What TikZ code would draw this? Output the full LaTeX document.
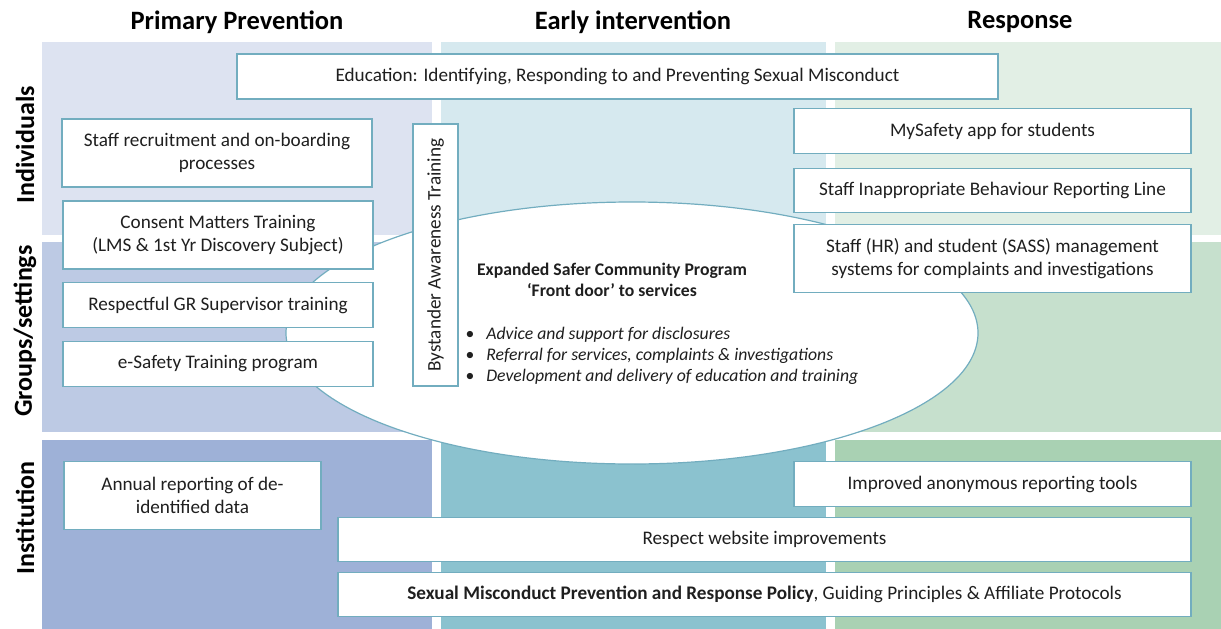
\documentclass[tikz,border=0pt]{standalone}
\usepackage{fontspec}
\setmainfont{Carlito}
\usetikzlibrary{shapes.geometric}
\definecolor{boxedge}{HTML}{72ADBF}
\definecolor{inkgrey}{HTML}{1F1F1F}
\definecolor{cellAa}{HTML}{DDE3F1}
\definecolor{cellAb}{HTML}{BDCAE4}
\definecolor{cellAc}{HTML}{9EB1D7}
\definecolor{cellBa}{HTML}{D6E9EF}
\definecolor{cellBb}{HTML}{B6D7E2}
\definecolor{cellBc}{HTML}{8BC2CF}
\definecolor{cellCa}{HTML}{E2EFE5}
\definecolor{cellCb}{HTML}{C6E0CD}
\definecolor{cellCc}{HTML}{A9D1B3}
\tikzset{
    info-box/.style = {draw=boxedge, fill=white, line width=1.2pt, rectangle, inner sep=2pt, align=center, text=inkgrey, font=\fontsize{19.2}{23.5}\selectfont},
    col-head/.style = {text=black, font=\fontsize{26.5}{30}\selectfont\bfseries},
    row-label/.style = {text=black, rotate=90, font=\fontsize{26}{30}\selectfont\bfseries},
    hub-ellipse/.style = {ellipse, draw=boxedge, fill=white, line width=1.2pt, inner sep=0pt, minimum width=692pt, minimum height=262pt},
    hub-text/.style = {text=inkgrey, font=\fontsize{17.7}{21}\selectfont},
}

\begin{document}
\begin{tikzpicture}[x=1pt, y=-1pt]
\useasboundingbox (0,0) rectangle (1221,629);
% background grid: columns x rows
\foreach \xa/\xb/\col in {42/432/A, 441/826/B, 835/1221/C}{
    \fill[cell\col a] (\xa,42) rectangle (\xb,235);
    \fill[cell\col b] (\xa,242) rectangle (\xb,432);
    \fill[cell\col c] (\xa,440) rectangle (\xb,629);
}
\node [col-head] (head-prim) at (237,22) {Primary Prevention};
\node [col-head] (head-early) at (633,22) {Early intervention};
\node [col-head] (head-resp) at (1020,22) {Response};
\node [row-label] (lab-ind) at (25,145) {Individuals};
\node [row-label] (lab-grp) at (25,331) {Groups/settings};
\node [row-label] (lab-inst) at (25,518) {Institution};

% central program
\node [hub-ellipse] (hub) at (632,333) {};
\node [hub-text, align=center, font=\fontsize{17.7}{21}\selectfont\bfseries] (hub-title) at (612,280)
    {Expanded Safer Community Program\\‘Front door’ to services};
\node [hub-text, align=left, anchor=west] (hub-points) at (462,356)
    {\textbullet\hspace{12pt}\textit{Advice and support for disclosures}\\
     \textbullet\hspace{12pt}\textit{Referral for services, complaints \& investigations}\\
     \textbullet\hspace{12pt}\textit{Development and delivery of education and training}};

% individual level
\node [info-box, minimum width=761pt, minimum height=45pt] (edu) at (617.5,76.5)
    {Education: Identifying, Responding to and Preventing Sexual Misconduct};
\node [info-box, minimum width=310pt, minimum height=68pt] (recruit) at (217,153)
    {Staff recruitment and on-boarding\\processes};
\node [info-box, minimum width=310pt, minimum height=68pt] (consent) at (218,235)
    {Consent Matters Training\\(LMS \& 1st Yr Discovery Subject)};
\node [info-box, minimum width=310pt, minimum height=45pt] (gr-super) at (218,305)
    {Respectful GR Supervisor training};
\node [info-box, minimum width=310pt, minimum height=45pt] (esafety) at (218,364)
    {e-Safety Training program};
\node [info-box, rotate=90, minimum width=262pt, minimum height=45pt] (bystander) at (435.5,255)
    {Bystander Awareness Training};
\node [info-box, minimum width=397pt, minimum height=45pt] (mysafety) at (992.5,131)
    {MySafety app for students};
\node [info-box, minimum width=397pt, minimum height=44pt] (report-line) at (992.5,190.5)
    {Staff Inappropriate Behaviour Reporting Line};
\node [info-box, minimum width=397pt, minimum height=68pt] (hr-sass) at (992.5,258.5)
    {Staff (HR) and student (SASS) management\\systems for complaints and investigations};

% institution level
\node [info-box, minimum width=257pt, minimum height=68pt] (annual) at (192.5,495.5)
    {Annual reporting of de-\\identified data};
\node [info-box, minimum width=397pt, minimum height=45pt] (anon-tools) at (992.5,484)
    {Improved anonymous reporting tools};
\node [info-box, minimum width=853pt, minimum height=44pt] (website) at (764.5,539.5)
    {Respect website improvements};
\node [info-box, minimum width=853pt, minimum height=44pt] (policy) at (764.5,594.5)
    {\textbf{Sexual Misconduct Prevention and Response Policy}, Guiding Principles \& Affiliate Protocols};
\end{tikzpicture}
\end{document}
